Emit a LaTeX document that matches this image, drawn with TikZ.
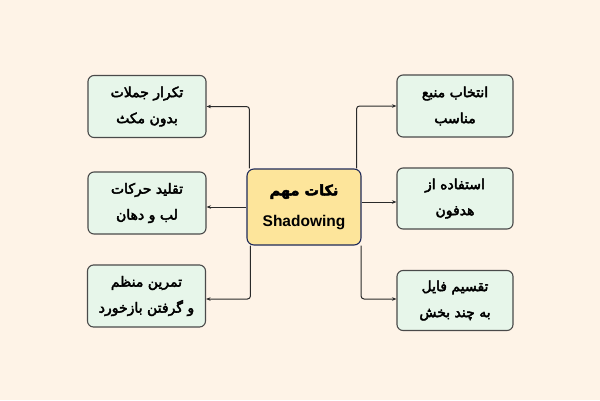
\documentclass[tikz,border=0pt]{standalone}
\usepackage{fontspec}
\setmainfont{Liberation Sans}
\newfontfamily\arabicfont[Script=Arabic, FakeBold=3]{DejaVu Sans}
\TeXXeTstate=1
\usetikzlibrary{arrows.meta,calc}
\definecolor{bgcol}{HTML}{FEF3E7}
\definecolor{greenfill}{HTML}{E7F6EA}
\definecolor{greenline}{HTML}{4A4A4A}
\definecolor{yellowfill}{HTML}{FDE59B}
\definecolor{navyline}{HTML}{1F2A5A}
\definecolor{linecol}{HTML}{2A2A2A}
\tikzset{
  gbox/.style={draw=greenline, line width=1.1pt, fill=greenfill, rounded corners=6pt,
    minimum width=118pt, minimum height=62pt, align=center, inner sep=0pt,
    font=\arabicfont\fontsize{14}{26}\selectfont},
  cbox/.style={draw=navyline, line width=1.1pt, fill=yellowfill, rounded corners=7pt,
    minimum width=114pt, minimum height=76pt, align=center, inner sep=0pt,
    font=\bfseries\fontsize{15.5}{31}\selectfont},
  conn/.style={draw=linecol, line width=1pt, rounded corners=3pt,
    -{Stealth[length=4.5pt,width=3.5pt]}}
}
\begin{document}
\begin{tikzpicture}[x=1pt,y=-1pt]
\fill[bgcol] (0,0) rectangle (600,400);
\useasboundingbox (0,0) rectangle (600,400);

\node[cbox] (C) at (304,207) {{\arabicfont\fontsize{14.5}{31}\selectfont\beginR نکات مهم\endR}\\Shadowing};

\node[gbox] (L1) at (147,106.5) {\beginR تکرار جملات\endR\\\beginR بدون مکث\endR};
\node[gbox] (L2) at (147,203) {\beginR تقلید حرکات\endR\\\beginR لب و دهان\endR};
\node[gbox] (L3) at (146.5,296) {\beginR تمرین منظم\endR\\\beginR و گرفتن بازخورد\endR};

\node[gbox, minimum width=116pt] (R1) at (455,106) {\beginR انتخاب منبع\endR\\\beginR مناسب\endR};
\node[gbox, minimum width=116pt, minimum height=61pt] (R2) at (455,198.5) {\beginR استفاده از\endR\\\beginR هدفون\endR};
\node[gbox, minimum width=116pt, minimum height=60pt] (R3) at (455,300.5) {\beginR تقسیم فایل\endR\\\beginR به چند بخش\endR};

\draw[conn] ([xshift=3pt]C.north west) |- (L1.east);
\draw[conn] (C.west) -- (C.west -| L2.east);
\draw[conn] ([xshift=4pt]C.south west) |- ($(L3.east)+(0,3)$);

\draw[conn] ([xshift=-5pt]C.north east) |- (R1.west);
\draw[conn] ([yshift=5pt]C.east) -- ([yshift=5pt]C.east -| R2.west);
\draw[conn] ([xshift=-0.5pt]C.south east) |- ($(R3.west)+(0,-1.5)$);
\end{tikzpicture}
\end{document}
